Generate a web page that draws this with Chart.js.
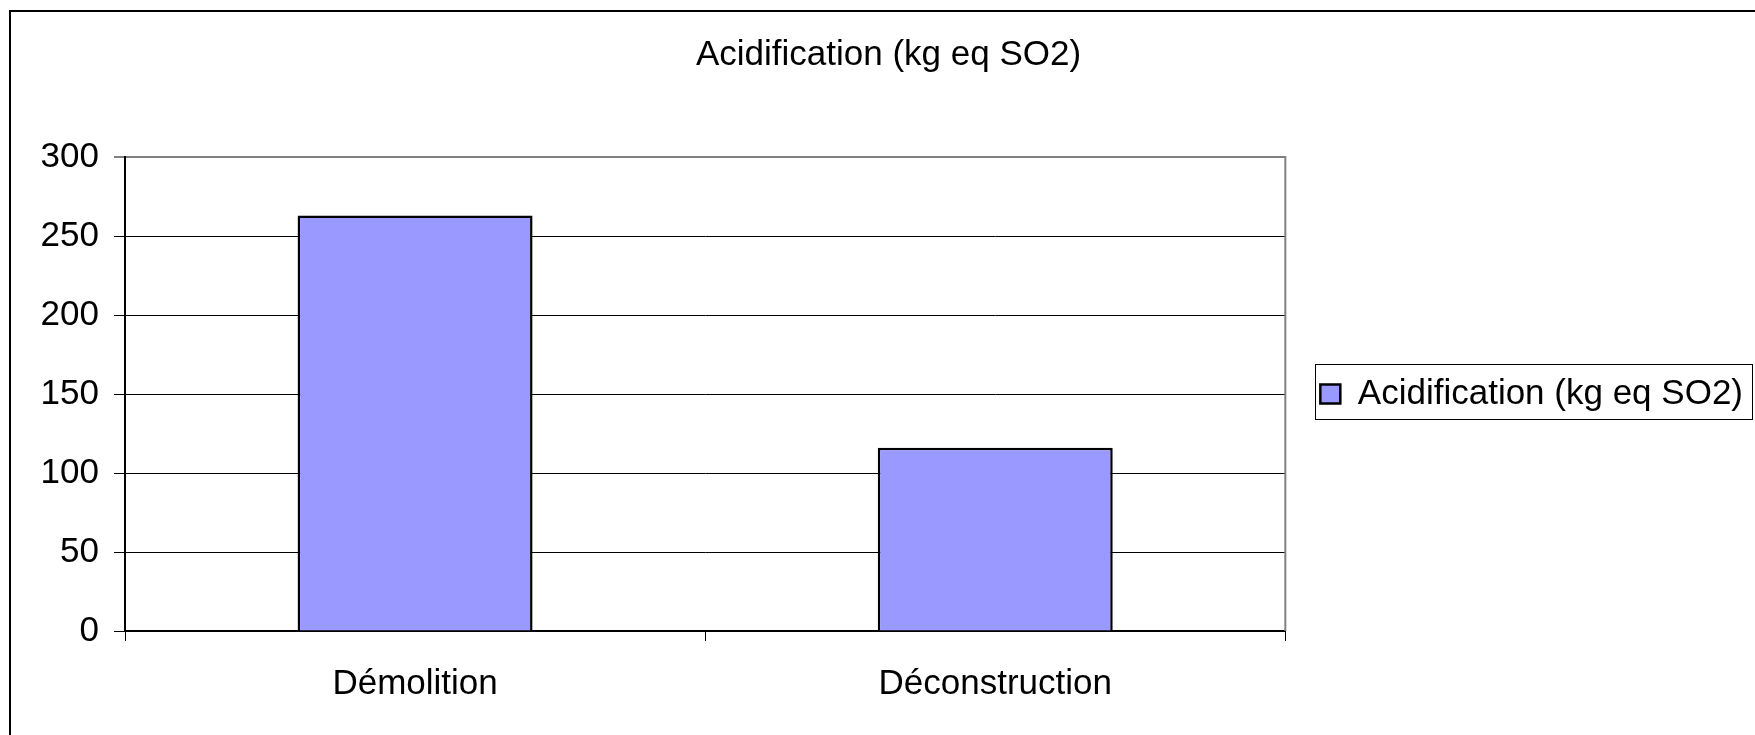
<!DOCTYPE html>
<html>
<head>
<meta charset="utf-8">
<title>Acidification (kg eq SO2)</title>
<script src="https://cdn.jsdelivr.net/npm/chart.js@4/dist/chart.umd.min.js"></script>
<style>
  html, body { margin: 0; padding: 0; background: #ffffff; }
  canvas { display: block; }
</style>
</head>
<body>
<canvas id="chart" width="1755" height="735"></canvas>
<script>
// Chart data
const categories = ['Démolition', 'Déconstruction'];
const seriesLabel = 'Acidification (kg eq SO2)';
const seriesValues = [263, 116];
const yTicks = [0, 50, 100, 150, 200, 250, 300];

const FONT = "'Liberation Sans', Arial, sans-serif";
const FONT_SIZE = 35;

// Outer frame of the chart object (left and top edges are visible)
const outerFrame = {
  id: 'outerFrame',
  beforeDraw(chart) {
    const ctx = chart.ctx;
    ctx.save();
    ctx.fillStyle = '#ffffff';
    ctx.fillRect(0, 0, chart.width, chart.height);
    ctx.strokeStyle = '#000000';
    ctx.lineWidth = 2;
    ctx.strokeRect(10, 11, chart.width + 20, chart.height + 20);
    ctx.restore();
  }
};

// Grey right edge of the plot area
const plotFrame = {
  id: 'plotFrame',
  afterDatasetsDraw(chart) {
    const { ctx, chartArea } = chart;
    ctx.save();
    ctx.strokeStyle = '#808080';
    ctx.lineWidth = 2;
    ctx.beginPath();
    ctx.moveTo(chartArea.right, chartArea.top - 1);
    ctx.lineTo(chartArea.right, chartArea.bottom);
    ctx.stroke();
    ctx.restore();
  }
};

// Box around the legend entry
const legendFrame = {
  id: 'legendFrame',
  afterDraw(chart) {
    const legend = chart.legend;
    if (!legend || !legend.legendHitBoxes || !legend.legendHitBoxes.length) return;
    const hb = legend.legendHitBoxes[0];
    const ctx = chart.ctx;
    const left = Math.round(hb.left - 5) + 0.5;
    const top = Math.round(hb.top - 13) + 0.5;
    const right = Math.min(Math.round(hb.left + hb.width + 11), chart.width - 3) + 0.5;
    const bottom = Math.round(hb.top + hb.height + 7) + 0.5;
    ctx.save();
    ctx.strokeStyle = '#000000';
    ctx.lineWidth = 1;
    ctx.strokeRect(left, top, right - left, bottom - top);
    ctx.restore();
  }
};

new Chart(document.getElementById('chart'), {
  type: 'bar',
  data: {
    labels: categories,
    datasets: [{
      label: seriesLabel,
      data: seriesValues,
      backgroundColor: '#9999FF',
      borderColor: '#000000',
      borderWidth: 2.5,
      barPercentage: 0.405,
      categoryPercentage: 1.0
    }]
  },
  options: {
    responsive: false,
    animation: false,
    devicePixelRatio: 1,
    layout: { padding: { left: 24, right: 2, top: 0, bottom: 0 } },
    plugins: {
      title: {
        display: true,
        text: seriesLabel,
        color: '#000000',
        font: { family: FONT, size: FONT_SIZE, weight: 'normal', lineHeight: 1.2 },
        padding: { top: 34, bottom: 81 }
      },
      legend: {
        display: true,
        position: 'right',
        align: 'center',
        fullSize: false,
        maxWidth: 600,
        labels: {
          color: '#000000',
          font: { family: FONT, size: FONT_SIZE, weight: 'normal' },
          boxWidth: 20,
          boxHeight: 19,
          padding: 35
        }
      },
      tooltip: { enabled: false }
    },
    scales: {
      x: {
        offset: true,
        grid: {
          offset: true,
          drawOnChartArea: false,
          drawTicks: true,
          tickLength: 10,
          color: '#000000',
          lineWidth: 1
        },
        border: { display: true, color: '#000000', width: 2 },
        ticks: {
          color: '#000000',
          font: { family: FONT, size: FONT_SIZE, weight: 'normal', lineHeight: 1.2 },
          padding: 22,
          maxRotation: 0
        },
        afterFit(scale) { scale.height = 104; }
      },
      y: {
        min: yTicks[0],
        max: yTicks[yTicks.length - 1],
        afterBuildTicks(scale) { scale.ticks = yTicks.map(v => ({ value: v })); },
        grid: {
          drawTicks: true,
          tickLength: 11,
          color: (c) => (c.tick && c.tick.value === 300) ? '#808080' : '#000000',
          lineWidth: (c) => (c.tick && c.tick.value === 300) ? 2 : 1
        },
        border: { display: true, color: '#000000', width: 2 },
        ticks: {
          color: '#000000',
          font: { family: FONT, size: FONT_SIZE, weight: 'normal', lineHeight: 1.2 },
          padding: 15
        },
        afterFit(scale) { scale.width = 101; }
      }
    }
  },
  plugins: [outerFrame, plotFrame, legendFrame]
});
</script>
</body>
</html>
